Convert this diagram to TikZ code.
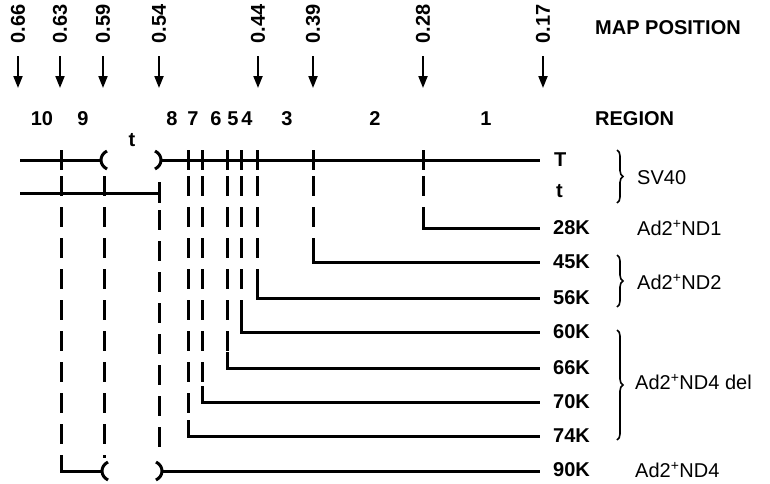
\documentclass[tikz,border=0pt]{standalone}
\usepackage{fontspec}
\setmainfont{Liberation Sans}
\usetikzlibrary{positioning,arrows.meta,decorations.pathreplacing}

% the two halves of a split gene: "(" and ")"
\newcommand{\lbr}[2]{\draw[gene] ({#1+6},{#2-9}) .. controls ({#1-2},{#2-5}) and ({#1-2},{#2+5}) .. ({#1+6},{#2+9});}
\newcommand{\rbr}[2]{\draw[gene] ({#1-6},{#2-9}) .. controls ({#1+2},{#2-5}) and ({#1+2},{#2+5}) .. ({#1-6},{#2+9});}

\begin{document}
\begin{tikzpicture}[x=1pt,y=-1pt,>={Triangle[length=12pt,width=9pt]},
  lbl/.style={font=\fontsize{20}{22}\selectfont\bfseries,inner sep=0pt},
  grp/.style={font=\fontsize{20}{22}\selectfont,inner sep=0pt,anchor=west},
  gene/.style={line width=3pt},
  guide/.style={line width=3pt,dash pattern=on 20pt off 11pt},
  grpbrace/.style={decorate,decoration={brace,amplitude=6pt},line width=1.6pt}]
\useasboundingbox (0,0) rectangle (770,483);
% map positions
\foreach \i/\x/\m in {1/18/0.66,2/60/0.63,3/103/0.59,4/159/0.54,5/258/0.44,6/313/0.39,7/423/0.28,8/543/0.17}{
  \node[lbl,rotate=90] (m\i) at (\x,24) {\m};
  \coordinate (a\i) at (\x,56);
  \coordinate (b\i) at (\x,88);
  \draw[->,line width=2pt] (a\i) -- (b\i);
}
\node[lbl,anchor=west] (mp) at (595,28) {MAP POSITION};
% regions
\foreach \i/\x in {10/42,9/83,8/172,7/193,6/216,5/233,4/247,3/287,2/375,1/486}
  \node[lbl] (r\i) at (\x,119) {\i};
\node[lbl,anchor=west] (reg) at (595,119) {REGION};
\node[lbl] (tgap) at (132,140) {t};
% SV40 T and t
\coordinate (Tl) at (20,160);
\coordinate (Tp) at (101,160);
\coordinate (Tq) at (161,160);
\coordinate (Tr) at (540,160);
\coordinate (tl) at (20,193);
\coordinate (tr) at (159,193);
\draw[gene] (Tl) -- (Tp);
\lbr{101}{160}
\rbr{161}{160}
\draw[gene] (Tq) -- (Tr);
\draw[gene] (tl) -- (tr);
\draw[gene] (159,182) -- (159,203);
\node[lbl,anchor=west] (kT) at (554,160) {T};
\node[lbl,anchor=west] (kt) at (556,191) {t};
% deletion end points
\foreach \x/\y/\k in {423/228/28K,313/262/45K,257/298/56K,241/332/60K,227/368/66K,202/402/70K,188/436/74K}{
  \coordinate (s\k) at (\x,\y);
  \coordinate (e\k) at (540,\y);
  \draw[gene] (\x,150) -- (\x,170);
  \draw[guide] (\x,176) -- (\x,\y-16);
  \draw[gene] (\x,\y-16) -- (s\k) -- (e\k);
  \node[lbl,anchor=west] (k\k) at (553,\y) {\k};
}
% 90K
\coordinate (n1) at (61,471);
\coordinate (n2) at (102,471);
\coordinate (n3) at (162,471);
\coordinate (n4) at (540,471);
\draw[gene] (61,150) -- (61,170);
\draw[guide] (61,176) -- (61,456);
\draw[gene] (61,456) -- (n1) -- (n2);
\lbr{102}{471}
\rbr{162}{471}
\draw[gene] (n3) -- (n4);
\draw[guide] (104,176) -- (104,458);
\draw[guide] (159,210) -- (159,458);
\node[lbl,anchor=west] (k90K) at (553,470) {90K};
% groups
\draw[grpbrace] (617,150) -- (617,203);
\draw[grpbrace] (617,255) -- (617,307);
\draw[grpbrace] (617,330) -- (617,440);
\node[grp] (sv) at (637,178) {SV40};
\node[grp] (nd1) at (637,228) {Ad2\textsuperscript{+}ND1};
\node[grp] (nd2) at (637,282) {Ad2\textsuperscript{+}ND2};
\node[grp] (nd4d) at (635,382) {Ad2\textsuperscript{+}ND4 del};
\node[grp] (nd4) at (635,470) {Ad2\textsuperscript{+}ND4};
\end{tikzpicture}
\end{document}
